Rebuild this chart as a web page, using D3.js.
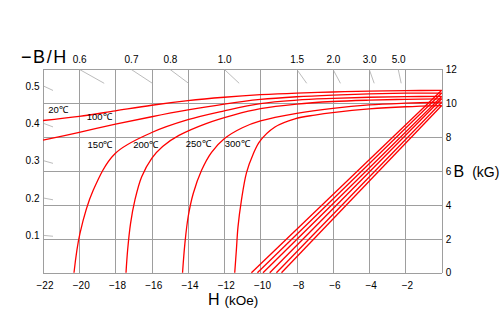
<!DOCTYPE html>
<html>
<head>
<meta charset="utf-8">
<script src="https://cdn.jsdelivr.net/npm/d3@7"></script>
<style>
  html, body { margin: 0; padding: 0; background: #fff; }
  svg { display: block; font-family: "Liberation Sans", Arial, sans-serif; }
</style>
</head>
<body>
<svg id="chart" width="501" height="329"></svg>
<script>
// Demagnetization curves of a rare-earth magnet at several temperatures.
const temps = ["20℃", "100℃", "150℃", "200℃", "250℃", "300℃"];

// Normal (B–H) lines: remanence at H = 0 and coercive field at B = 0
const brValues = [10.76, 10.6, 10.4, 10.26, 10.06, 9.86];
const hcValues = [-10.5, -10.17, -9.86, -9.49, -9.12, -8.84];

// Intrinsic curves, H (kOe) and B (kG) per temperature
const intrinsicH20 = [-22, -20, -18, -16, -14, -12, -10, -8, -6, -4, -2, 0];
const intrinsicB20 = [8.98, 9.22, 9.55, 9.88, 10.15, 10.35, 10.5, 10.6, 10.66, 10.71, 10.74, 10.76];
const intrinsicH100 = [-22, -20, -18, -16, -14, -12, -10, -8, -6, -4, -2, 0];
const intrinsicB100 = [7.82, 8.28, 8.76, 9.2, 9.6, 9.95, 10.22, 10.38, 10.48, 10.55, 10.59, 10.6];
const intrinsicH150 = [-20.29, -19.96, -19.23, -18.03, -16.0, -14.0, -12.0, -10, -8, -6, -4, -2, 0];
const intrinsicB150 = [0, 2.32, 4.86, 7.02, 8.27, 9.03, 9.55, 9.98, 10.18, 10.28, 10.35, 10.39, 10.4];
const intrinsicH200 = [-17.42, -17.33, -17.17, -16.93, -16.56, -16.0, -15.4, -14.5, -13, -11.5, -10, -8, -6, -4, -2, 0];
const intrinsicB200 = [0, 1.34, 2.9, 4.28, 5.65, 6.75, 7.45, 8.1, 8.8, 9.3, 9.68, 9.95, 10.1, 10.18, 10.23, 10.26];
const intrinsicH250 = [-14.3, -14.17, -13.99, -13.71, -13.25, -12.7, -12, -11, -10, -8, -6, -4, -2, 0];
const intrinsicB250 = [0, 1.73, 3.3, 4.67, 6.04, 7.1, 7.9, 8.55, 8.95, 9.4, 9.7, 9.9, 10.0, 10.06];
const intrinsicH300 = [-11.42, -11.33, -11.24, -11.05, -10.77, -10.4, -10.04, -9.2, -8.1, -7, -5.9, -4, -2, 0];
const intrinsicB300 = [0, 1.34, 2.7, 4.28, 5.9, 7.0, 7.75, 8.6, 9.08, 9.3, 9.46, 9.66, 9.79, 9.86];

// Axis ticks
const hTickValues = [-22, -20, -18, -16, -14, -12, -10, -8, -6, -4, -2];
const bTickValues = [0, 2, 4, 6, 8, 10, 12];
const permeanceLeft = [0.1, 0.2, 0.3, 0.4, 0.5];
const permeanceTop = [0.6, 0.7, 0.8, 1.0, 1.5, 2.0, 3.0, 5.0];

// Where each temperature label sits, in chart units (H, B)
const tempLabelAnchor = [[-21.71, 9.42], [-19.59, 9.02], [-19.54, 7.38], [-17.02, 7.36], [-14.12, 7.42], [-11.97, 7.42]];

const intrinsicH = [intrinsicH20, intrinsicH100, intrinsicH150, intrinsicH200, intrinsicH250, intrinsicH300];
const intrinsicB = [intrinsicB20, intrinsicB100, intrinsicB150, intrinsicB200, intrinsicB250, intrinsicB300];

const svg = d3.select("#chart");
const plotLeft = 43, plotRight = 441.7, plotTop = 69.3, plotBottom = 272.7;
const x = d3.scaleLinear().domain([-22, 0]).range([plotLeft, plotRight]);
const y = d3.scaleLinear().domain([0, 12]).range([plotBottom, plotTop]);

const gridColor = "#9e9e9e";

// Grid
svg.append("g")
  .attr("transform", `translate(0,${plotBottom})`)
  .call(d3.axisBottom(x).tickValues(hTickValues.concat([0])).tickSize(-(plotBottom - plotTop)).tickFormat(""))
  .call(g => g.select(".domain").remove())
  .call(g => g.selectAll("line").attr("stroke", gridColor).attr("shape-rendering", "crispEdges"));
svg.append("g")
  .attr("transform", `translate(${plotLeft},0)`)
  .call(d3.axisLeft(y).tickValues(bTickValues).tickSize(-(plotRight - plotLeft)).tickFormat(""))
  .call(g => g.select(".domain").remove())
  .call(g => g.selectAll("line").attr("stroke", gridColor).attr("shape-rendering", "crispEdges"));
svg.append("line").attr("x1", plotLeft).attr("x2", plotLeft).attr("y1", plotTop).attr("y2", plotBottom)
  .attr("stroke", gridColor).attr("shape-rendering", "crispEdges");

// Bottom H labels
svg.append("g")
  .attr("transform", `translate(1.5,${plotBottom})`)
  .call(d3.axisBottom(x).tickValues(hTickValues).tickSize(0).tickPadding(9).tickFormat(d3.format("d")))
  .call(g => g.select(".domain").remove())
  .call(g => g.selectAll("text").attr("font-size", 10).attr("font-family", "Liberation Sans, Arial, sans-serif").attr("fill", "#000"));

// Right B labels
svg.append("g")
  .attr("transform", `translate(${plotRight},0)`)
  .call(d3.axisRight(y).tickValues(bTickValues).tickSize(0).tickPadding(4).tickFormat(d3.format("d")))
  .call(g => g.select(".domain").remove())
  .call(g => g.selectAll("text").attr("font-size", 10).attr("font-family", "Liberation Sans, Arial, sans-serif").attr("fill", "#000"));

// Permeance (−B/H) markers along the left and top edges, pointing at the origin
const ox = x(0), oy = y(0);
const fmt1 = d3.format(".1f");
permeanceLeft.forEach(p => {
  const py = y(p * 22);
  const dx = 9, dy = dx * (oy - py) / (ox - plotLeft);
  svg.append("line").attr("x1", plotLeft + 1).attr("y1", py).attr("x2", plotLeft + 1 + dx).attr("y2", py + dy)
    .attr("stroke", "#aaa").attr("stroke-width", 0.8);
  svg.append("text").attr("x", 39.5).attr("y", py + 3.5).attr("text-anchor", "end")
    .attr("font-size", 10).text(fmt1(p));
});
permeanceTop.forEach(p => {
  const px = x(-12 / p);
  const dy = 14, dx = dy * (ox - px) / (oy - plotTop);
  svg.append("line").attr("x1", px).attr("y1", plotTop).attr("x2", px + dx).attr("y2", plotTop + dy)
    .attr("stroke", "#aaa").attr("stroke-width", 0.8);
  svg.append("text").attr("x", px + 0.5).attr("y", 63).attr("text-anchor", "middle")
    .attr("font-size", 10).text(fmt1(p));
});

// Curves
const smooth = d3.line().x(d => x(d[0])).y(d => y(d[1])).curve(d3.curveCatmullRom.alpha(0.5));
const straight = d3.line().x(d => x(d[0])).y(d => y(d[1]));
const curves = svg.append("g").attr("fill", "none").attr("stroke", "#ff0000").attr("stroke-width", 1.3);
temps.forEach((t, i) => {
  const pts = intrinsicH[i].map((h, k) => [h, intrinsicB[i][k]]);
  curves.append("path").attr("d", smooth(pts));
  curves.append("path").attr("d", straight([[hcValues[i], 0], [0, brValues[i]]]));
});

// Temperature labels
temps.forEach((t, i) => {
  svg.append("text").attr("x", x(tempLabelAnchor[i][0])).attr("y", y(tempLabelAnchor[i][1]))
    .attr("font-size", 9.5).text(t);
});

// Axis titles
const hTitle = svg.append("text").attr("x", 208).attr("y", 305);
hTitle.append("tspan").attr("font-size", 16).text("H");
hTitle.append("tspan").attr("font-size", 13.5).attr("dx", 5).text("(kOe)");

const bTitle = svg.append("text").attr("x", 453.5).attr("y", 177);
bTitle.append("tspan").attr("font-size", 16).text("B");
bTitle.append("tspan").attr("font-size", 14).attr("dx", 8).text("(kG)");

svg.append("text").attr("x", 21).attr("y", 63.3).attr("font-size", 18).attr("letter-spacing", 1.6).text("−B/H");
</script>
</body>
</html>
